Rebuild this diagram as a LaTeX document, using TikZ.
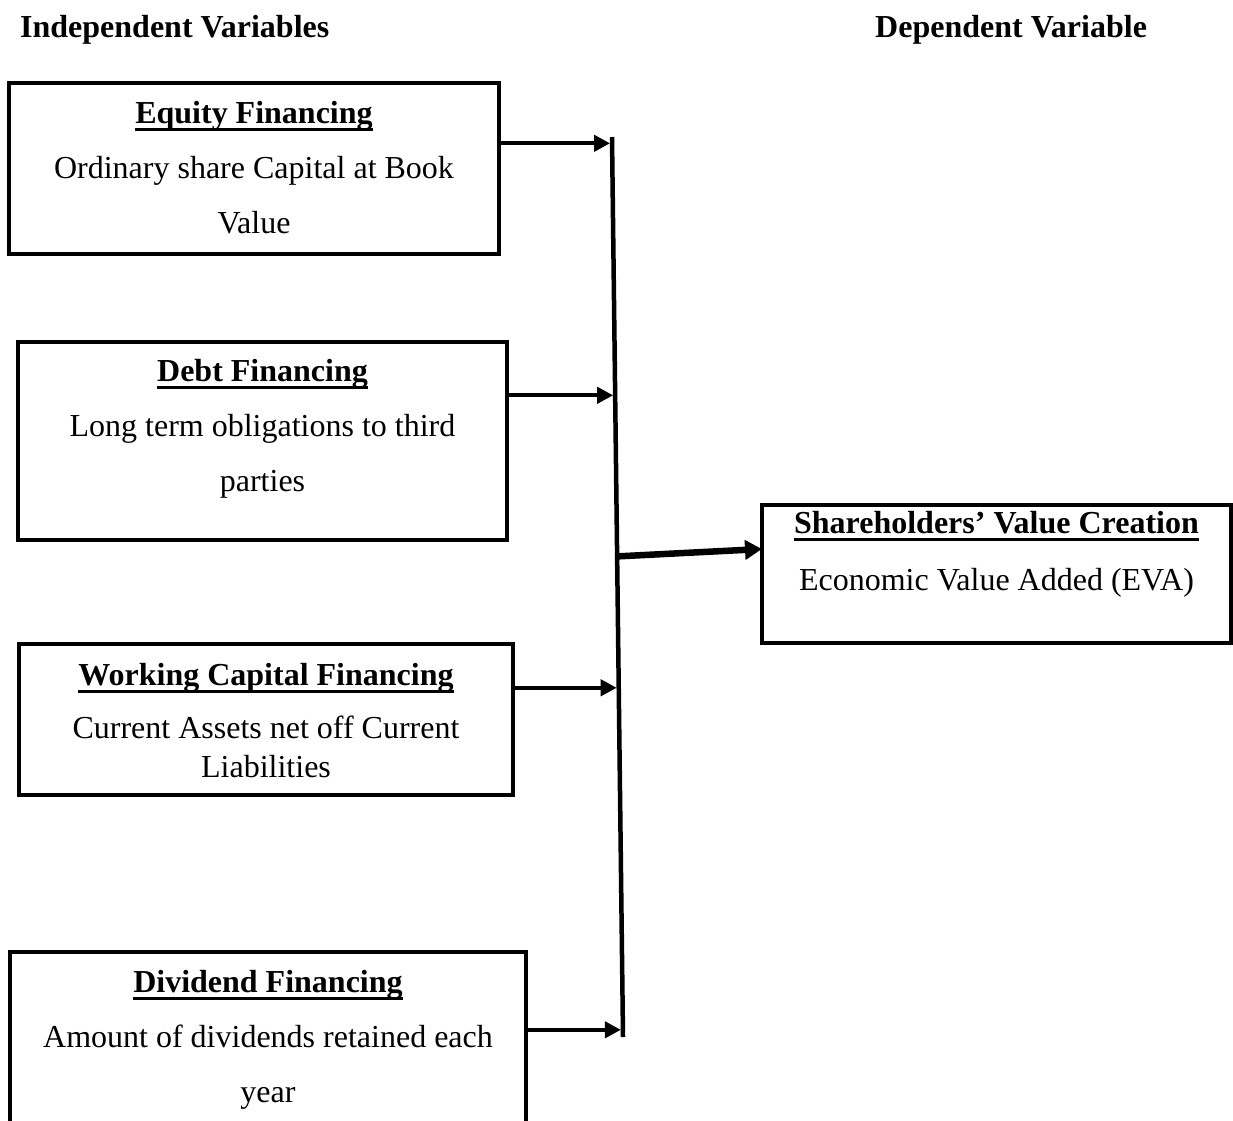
\documentclass[tikz,border=0pt]{standalone}
\usepackage{fontspec}
\setmainfont{Liberation Serif}
\usetikzlibrary{arrows.meta, positioning, calc}
\newcommand\headtext[1]{\setbox0\hbox{\bfseries #1}\rlap{\rule[-7.5pt]{\wd0}{3.2pt}}\box0}
\tikzset{
  heading/.style={font=\fontsize{32}{38}\selectfont\bfseries, inner sep=0pt, anchor=base west},
  varbox/.style={draw, line width=4pt, inner sep=0pt, outer sep=0pt, anchor=north west},
  boxtext/.style={align=center, inner sep=0pt, font=\fontsize{32}{55}\selectfont},
  feed/.style={line width=4pt, -{Triangle[length=16pt,width=16pt]}, shorten >=2pt},
  effect/.style={line width=6.5pt, -{Triangle[length=17pt,width=19pt]}},
  bar/.style={line width=4.5pt}
}

\begin{document}
\begin{tikzpicture}[x=1pt, y=-1pt]
  \useasboundingbox (0,0) rectangle (1233,1120);
  \clip (0,0) rectangle (1233,1120);

  % column headings
  \node[heading] (indep) at (20,37) {Independent Variables};
  \node[heading] (dep) at (875,37) {Dependent Variable};

  % independent variables
  \node[varbox, minimum width=490pt, minimum height=171pt] (equity) at (9,83) {};
  \node[boxtext, below=18pt of equity.north] (equitytext)
    {\headtext{Equity Financing}\\ Ordinary share Capital at Book\\ Value};

  \node[varbox, minimum width=489pt, minimum height=198pt] (debt) at (18,342) {};
  \node[boxtext, below=17pt of debt.north] (debttext)
    {\headtext{Debt Financing}\\ Long term obligations to third\\ parties};

  \node[varbox, minimum width=494pt, minimum height=151pt] (working) at (19,644) {};
  \node[boxtext, below=19pt of working.north] (workingtext)
    {\headtext{Working Capital Financing}\\[-2pt] Current Assets net off Current\\[-16pt] Liabilities};

  \node[varbox, minimum width=516pt, minimum height=220pt] (dividend) at (10,952) {};
  \node[boxtext, below=18pt of dividend.north] (dividendtext)
    {\headtext{Dividend Financing}\\ Amount of dividends retained each\\ year};

  % dependent variable
  \node[varbox, minimum width=469pt, minimum height=138pt] (share) at (762,505) {};
  \node[boxtext, below=6pt of share.north] (sharetext)
    {\headtext{Shareholders’ Value Creation}\\[2pt] Economic Value Added (EVA)};

  % collecting bar
  \coordinate (bartop) at (612,137);
  \coordinate (barbot) at (623,1037);
  \draw[bar] (bartop) -- (barbot);
  \coordinate (tE) at ($(bartop)!0.007!(barbot)$);
  \coordinate (tD) at ($(bartop)!0.287!(barbot)$);
  \coordinate (tM) at ($(bartop)!0.466!(barbot)$);
  \coordinate (tW) at ($(bartop)!0.612!(barbot)$);
  \coordinate (tV) at ($(bartop)!0.992!(barbot)$);

  % arrows
  \draw[feed] (equity.east |- tE) -- (tE);
  \draw[feed] (debt.east |- tD) -- (tD);
  \draw[feed] (working.east |- tW) -- (tW);
  \draw[feed] (dividend.east |- tV) -- (tV);
  \draw[effect] (tM) -- ([yshift=25pt]share.west);
\end{tikzpicture}
\end{document}
